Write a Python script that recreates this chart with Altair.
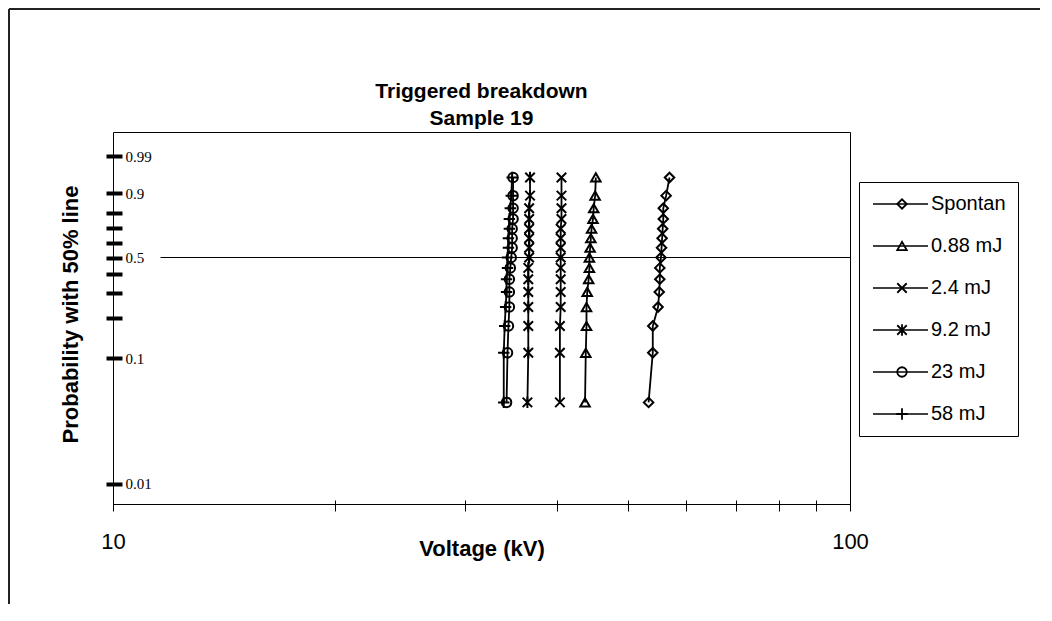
import math
import pandas as pd
import altair as alt

# ---------------- data ----------------
series_names = ["Spontan", "0.88 mJ", "2.4 mJ", "9.2 mJ", "23 mJ", "58 mJ"]
series_shapes = [
    "diamond",
    "triangle-up",
    "M-1,-1L1,1M-1,1L1,-1",
    "M-1,-1L1,1M-1,1L1,-1M0,-1.2L0,1.2",
    "circle",
    "M-1.2,0L1.2,0M0,-1.2L0,1.2",
]

# cumulative probability (median ranks) of the 15 points of every series
probs = [0.045, 0.110, 0.175, 0.240, 0.305, 0.370, 0.435, 0.500,
         0.565, 0.630, 0.695, 0.760, 0.825, 0.890, 0.955]

v_spontan = [53.3, 54.0, 54.0, 54.9, 55.1, 55.2, 55.2, 55.4, 55.5, 55.6, 55.7, 55.8, 55.8, 56.3, 56.9]
v_088 = [43.7, 43.8, 43.9, 43.9, 44.0, 44.2, 44.3, 44.3, 44.4, 44.5, 44.6, 44.8, 44.9, 45.1, 45.2]
v_24 = [40.4, 40.4, 40.4, 40.5, 40.5, 40.5, 40.5, 40.5, 40.5, 40.5, 40.5, 40.6, 40.6, 40.6, 40.6]
v_92 = [36.5, 36.6, 36.6, 36.6, 36.6, 36.6, 36.6, 36.7, 36.7, 36.7, 36.7, 36.7, 36.7, 36.8, 36.8]
v_23 = [34.2, 34.3, 34.4, 34.5, 34.5, 34.5, 34.6, 34.7, 34.8, 34.8, 34.8, 34.9, 34.9, 34.9, 34.9]
v_58 = [33.9, 33.9, 34.0, 34.1, 34.2, 34.2, 34.3, 34.3, 34.4, 34.4, 34.5, 34.5, 34.6, 34.7, 34.8]
series_volts = [v_spontan, v_088, v_24, v_92, v_23, v_58]

# the 50 % reference line
fifty_x = [11.6, 100.0]
fifty_p = [0.5, 0.5]

# axis ticks
x_ticks = [10, 20, 30, 40, 50, 60, 70, 80, 90, 100]
x_labeled = [10, 100]
y_tick_probs = [0.99, 0.9, 0.8, 0.7, 0.6, 0.5, 0.4, 0.3, 0.2, 0.1, 0.01]
y_labeled = ["0.99", "0.9", "0.5", "0.1", "0.01"]
y_prob_range = [0.00685, 0.9993]

# ---------------- tables ----------------
rows = []
for name, vals in zip(series_names, series_volts):
    for p, v in zip(probs, vals):
        rows.append({"series": name, "series_s": "s_" + name, "voltage": v, "p": p})
df = pd.DataFrame(rows)
fifty = pd.DataFrame({"voltage": fifty_x, "p": fifty_p})


def weib(p):
    return math.log(-math.log(1 - p))


y_tick_vals = [weib(p) for p in y_tick_probs]
y_domain = [weib(y_prob_range[0]), weib(y_prob_range[1])]

lab_expr_parts = []
for p in y_tick_probs:
    s = ("%g" % p)
    txt = s if s in y_labeled else ""
    lab_expr_parts.append((weib(p), txt))
y_label_expr = " : ".join(
    ["abs(datum.value - (%.6f)) < 0.001 ? '%s'" % (v, t) for v, t in lab_expr_parts]
) + " : ''"

x_label_expr = " || ".join(["datum.value == %g" % v for v in x_labeled])
x_label_expr = "(" + x_label_expr + ") ? toString(datum.value) : ''"

SANS = "Liberation Sans"
SERIF = "Liberation Serif"

x_enc = alt.X(
    "voltage:Q",
    scale=alt.Scale(type="log", domain=[10, 100], nice=False),
    axis=alt.Axis(
        values=x_ticks, labelExpr=x_label_expr, domain=False, grid=False,
        tickSize=11, tickWidth=1, tickColor="black", offset=-4,
        labelFont=SANS, labelFontSize=22, labelColor="black",
        labelBaseline="middle", labelPadding=30, labelFlush=False,
        labelOverlap=False, labelBound=False,
        title="Voltage (kV)", titleFont=SANS, titleFontSize=22,
        titleFontWeight="bold", titleColor="black", titleY=48,
        titleBaseline="middle",
    ),
)
y_enc = alt.Y(
    "wy:Q",
    scale=alt.Scale(domain=y_domain, nice=False, zero=False),
    axis=alt.Axis(
        values=y_tick_vals, labelExpr=y_label_expr, domain=False, grid=False,
        tickSize=16, tickWidth=4, tickColor="black", offset=-9,
        labelAlign="left", labelBaseline="middle", labelPadding=-19,
        labelFont=SERIF, labelFontSize=15, labelColor="black",
        labelFlush=False, labelOverlap=False, labelBound=False,
        title="Probability with 50% line", titleFont=SANS, titleFontSize=22,
        titleFontWeight="bold", titleColor="black", titleX=-52, titleY=182,
        titleAngle=270, titleAlign="center", titleBaseline="middle",
    ),
)

calc = "log(-log(1 - datum.p))"

fifty_line = alt.Chart(fifty).transform_calculate(wy=calc).mark_line(
    color="black", strokeWidth=1.2
).encode(x=x_enc, y=y_enc)

base = alt.Chart(df).transform_calculate(wy=calc)

lines = base.mark_line(strokeWidth=1.8).encode(
    x=x_enc, y=y_enc, order="p:Q",
    color=alt.Color(
        "series:N",
        scale=alt.Scale(domain=series_names, range=["black"] * len(series_names)),
        legend=alt.Legend(
            orient="none", legendX=746, legendY=50, title=None, padding=12,
            strokeColor="black", cornerRadius=0,
            labelFont=SANS, labelFontSize=20, labelColor="black", labelLimit=400,
            symbolType="M-1,0L5.875,0", symbolSize=256, symbolStrokeWidth=1.5,
            symbolStrokeColor="black", labelOffset=40, rowPadding=22,
        ),
    ),
)

points = base.mark_point(filled=False, size=90, strokeWidth=2, color="black", opacity=1).encode(
    x=x_enc, y=y_enc,
    shape=alt.Shape(
        "series_s:N",
        scale=alt.Scale(domain=["s_" + n for n in series_names], range=series_shapes),
        legend=alt.Legend(
            orient="none", legendX=779, legendY=62, title=None, padding=0,
            labelExpr="''",
            labelFont=SANS, labelFontSize=20, labelOpacity=0, labelOffset=2,
            symbolSize=90, symbolStrokeWidth=1.8, symbolStrokeColor="black",
            symbolFillColor="transparent", symbolOpacity=1, rowPadding=22,
        ),
    ),
)

# outer frame of the figure (left and top edges)
frame_left = alt.Chart(fifty).mark_rule(color="#222222", strokeWidth=2).encode(
    x=alt.value(-104), y=alt.value(-123), y2=alt.value(490)
)
frame_top = alt.Chart(fifty).mark_rule(color="#222222", strokeWidth=2).encode(
    x=alt.value(-104), x2=alt.value(940), y=alt.value(-123)
)

chart = alt.layer(fifty_line, lines, points, frame_left, frame_top).properties(
    width=737, height=372,
    title=alt.Title(
        ["Triggered breakdown", "Sample 19"], font=SANS, fontSize=21,
        fontWeight="bold", color="black", anchor="middle", offset=3, lineHeight=27,
        dy=124,
    ),
    autosize=alt.AutoSizeParams(type="none"),
    padding={"left": 105, "top": 124, "right": 190, "bottom": 100},
).configure(background="white").configure_view(stroke="black", strokeWidth=1)

chart.save("out.html", embed_options={"renderer": "svg", "actions": False})
